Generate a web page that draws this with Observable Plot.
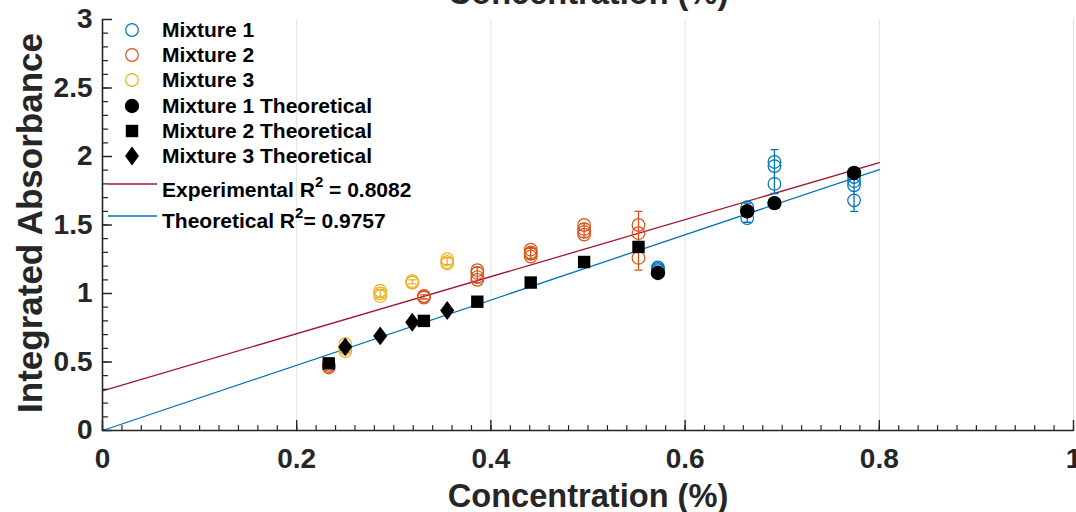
<!DOCTYPE html>
<html><head><meta charset="utf-8">
<script src="https://cdn.jsdelivr.net/npm/d3@7"></script>
<script src="https://cdn.jsdelivr.net/npm/@observablehq/plot@0.6"></script>
<style>
body{margin:0;background:#fff;}
#chart{position:relative;width:1076px;height:512px;overflow:hidden;}
</style></head><body><div id="chart"></div>
<script>
// ---------- data ----------
const mix1X = [0.572, 0.664, 0.692, 0.774];
const mix1Reps = [[1.19, 1.18, 1.17], [1.63, 1.60, 1.55], [1.96, 1.93, 1.80], [1.85, 1.82, 1.79, 1.68]];
const mix1ErrLo = [1.16, 1.52, 1.73, 1.60];
const mix1ErrHi = [1.20, 1.66, 2.05, 1.90];
const mix1Theo = [1.15, 1.60, 1.66, 1.88];

const mix2X = [0.233, 0.331, 0.386, 0.441, 0.496, 0.552];
const mix2Reps = [[0.48, 0.47, 0.46], [0.98, 0.97, 0.98], [1.17, 1.15, 1.12, 1.10], [1.32, 1.30, 1.29, 1.27], [1.50, 1.47, 1.45, 1.43], [1.50, 1.44, 1.26]];
const mix2ErrLo = [0.46, 0.96, 1.08, 1.25, 1.41, 1.17];
const mix2ErrHi = [0.49, 0.99, 1.19, 1.33, 1.51, 1.60];
const mix2Theo = [0.49, 0.80, 0.94, 1.08, 1.23, 1.34];

const mix3X = [0.250, 0.286, 0.319, 0.355];
const mix3Reps = [[0.63, 0.60, 0.58], [1.02, 1.00, 0.98], [1.09, 1.08, 1.08], [1.25, 1.23, 1.22]];
const mix3ErrLo = [0.57, 0.97, 1.07, 1.21];
const mix3ErrHi = [0.64, 1.03, 1.10, 1.26];
const mix3Theo = [0.61, 0.69, 0.79, 0.876];

const fitX = [0, 0.8];
const expFitY = [0.29, 1.956];
const theoFitY = [0.0, 1.905];

const xTicks = [0, 0.2, 0.4, 0.6, 0.8, 1];
const yTicks = [0, 0.5, 1, 1.5, 2, 2.5, 3];
const xMinor = d3.range(0, 101, 2).map(d => d / 100);
const yMinor = d3.range(0, 31, 1).map(d => d / 10);
const gridX = [0.2, 0.4, 0.6, 0.8, 1];

const legendLabels = ["Mixture 1", "Mixture 2", "Mixture 3", "Mixture 1 Theoretical", "Mixture 2 Theoretical", "Mixture 3 Theoretical"];
const expR2 = "0.8082";
const theoR2 = "0.9757";
const xLabel = "Concentration (%)";
const yLabel = "Integrated Absorbance";

// ---------- styles ----------
const C1 = "#0072BD", C2 = "#D95319", C3 = "#EDB120", CR = "#A2142F";
const AX = "#262626";
const FONT = "'Liberation Sans', Arial, Helvetica, sans-serif";

// ---------- tables ----------
const reps = (xs, rs, color) => xs.flatMap((x, i) => rs[i].map(y => ({x, y, color})));
const errs = (xs, lo, hi, color) => xs.map((x, i) => ({x, lo: lo[i], hi: hi[i], color}));
const theo = (xs, ys) => xs.map((x, i) => ({x, y: ys[i]}));

const repRows = [...reps(mix1X, mix1Reps, C1), ...reps(mix2X, mix2Reps, C2), ...reps(mix3X, mix3Reps, C3)];
const errRows = [...errs(mix1X, mix1ErrLo, mix1ErrHi, C1), ...errs(mix2X, mix2ErrLo, mix2ErrHi, C2), ...errs(mix3X, mix3ErrLo, mix3ErrHi, C3)];
const expFit = fitX.map((x, i) => ({x, y: expFitY[i]}));
const theoFit = fitX.map((x, i) => ({x, y: theoFitY[i]}));

const lineShape = {draw(ctx, l) { ctx.moveTo(0, 0); ctx.lineTo(0, -l); }};
const diamond = {draw(ctx, size) {
  const r = Math.sqrt(size / Math.PI), h = r * 1.27, w = r * 0.95;
  ctx.moveTo(0, -h); ctx.lineTo(w, 0); ctx.lineTo(0, h); ctx.lineTo(-w, 0); ctx.closePath();
}};

const svg = Plot.plot({
  width: 1076, height: 512,
  marginLeft: 102, marginRight: 3, marginTop: 19, marginBottom: 82,
  x: {domain: [0, 1]},
  y: {domain: [0, 3]},
  style: {fontFamily: FONT, fontSize: "28px", fontWeight: "bold", color: AX, background: "#fff", overflow: "visible"},
  marks: [
    Plot.ruleX(gridX, {stroke: "#e2e2e2", strokeWidth: 1}),
    Plot.line(expFit, {x: "x", y: "y", stroke: CR, strokeWidth: 1.3}),
    Plot.line(theoFit, {x: "x", y: "y", stroke: C1, strokeWidth: 1.3}),
    Plot.ruleX(errRows, {x: "x", y1: "lo", y2: "hi", stroke: "color", strokeWidth: 1.3}),
    Plot.vector(errRows, {x: "x", y: "lo", length: 7, rotate: 90, anchor: "middle", shape: lineShape, stroke: "color", strokeWidth: 1.3}),
    Plot.vector(errRows, {x: "x", y: "hi", length: 7, rotate: 90, anchor: "middle", shape: lineShape, stroke: "color", strokeWidth: 1.3}),
    Plot.dot(repRows, {x: "x", y: "y", r: 6.3, stroke: "color", fill: "none", strokeWidth: 1.2}),
    Plot.dot(theo(mix1X, mix1Theo), {x: "x", y: "y", r: 7.2, fill: "#000", symbol: "circle"}),
    Plot.dot(theo(mix2X, mix2Theo), {x: "x", y: "y", r: 7, fill: "#000", symbol: "square"}),
    Plot.dot(theo(mix3X, mix3Theo), {x: "x", y: "y", r: 7.4, fill: "#000", symbol: diamond}),
    // axes lines
    Plot.ruleY([0], {stroke: AX, strokeWidth: 1.6}),
    Plot.ruleX([0], {stroke: AX, strokeWidth: 1.6}),
    // inward ticks
    Plot.vector(xMinor, {x: d => d, frameAnchor: "bottom", length: 5, anchor: "start", shape: lineShape, stroke: AX, strokeWidth: 1.2}),
    Plot.vector(xTicks, {x: d => d, frameAnchor: "bottom", length: 10, anchor: "start", shape: lineShape, stroke: AX, strokeWidth: 1.4}),
    Plot.vector(yMinor, {y: d => d, frameAnchor: "left", rotate: 90, length: 5, anchor: "start", shape: lineShape, stroke: AX, strokeWidth: 1.2}),
    Plot.vector(yTicks, {y: d => d, frameAnchor: "left", rotate: 90, length: 9, anchor: "start", shape: lineShape, stroke: AX, strokeWidth: 1.4}),
    Plot.axisX({ticks: xTicks, tickSize: 0, tickPadding: 18, tickFormat: d => String(d), label: null, fontSize: 28, fontWeight: "bold", fill: AX}),
    Plot.axisY({ticks: yTicks, tickSize: 0, tickPadding: 10, tickFormat: d => String(d), label: null, fontSize: 28, fontWeight: "bold", fill: AX})
  ]
});

document.getElementById("chart").appendChild(svg);

// ---------- titles & legend ----------
const s = d3.select(svg);
s.append("text").attr("x", 588).attr("y", 4).attr("text-anchor", "middle")
  .attr("font-size", 32.6).attr("font-weight", "bold").attr("fill", AX).attr("font-family", FONT).text(xLabel);
s.append("text").attr("x", 588).attr("y", 507).attr("text-anchor", "middle")
  .attr("font-size", 32.6).attr("font-weight", "bold").attr("fill", AX).attr("font-family", FONT).text(xLabel);
s.append("text").attr("transform", "translate(42,223) rotate(-90)").attr("text-anchor", "middle")
  .attr("font-size", 35).attr("font-weight", "bold").attr("fill", AX).attr("font-family", FONT).text(yLabel);

const lg = s.append("g").attr("font-family", FONT).attr("font-weight", "bold").attr("font-size", 21)
  .attr("fill", "#000").attr("text-anchor", "start");
const rowY = [30, 55, 80, 106, 131, 156];
const mx = 132;
const sym = [
  g => g.append("circle").attr("r", 6.3).attr("fill", "none").attr("stroke", C1).attr("stroke-width", 1.2),
  g => g.append("circle").attr("r", 6.3).attr("fill", "none").attr("stroke", C2).attr("stroke-width", 1.2),
  g => g.append("circle").attr("r", 6.3).attr("fill", "none").attr("stroke", C3).attr("stroke-width", 1.2),
  g => g.append("circle").attr("r", 7.2).attr("fill", "#000"),
  g => g.append("rect").attr("x", -6.2).attr("y", -6.2).attr("width", 12.4).attr("height", 12.4).attr("fill", "#000"),
  g => g.append("path").attr("d", "M0,-9.4L7,0L0,9.4L-7,0Z").attr("fill", "#000")
];
legendLabels.forEach((lab, i) => {
  const g = lg.append("g").attr("transform", `translate(${mx},${rowY[i]})`);
  sym[i](g);
  lg.append("text").attr("x", 162).attr("y", rowY[i] + 7).text(lab);
});
lg.append("line").attr("x1", 108).attr("x2", 157).attr("y1", 184).attr("y2", 184).attr("stroke", CR).attr("stroke-width", 1.3);
lg.append("line").attr("x1", 108).attr("x2", 157).attr("y1", 216).attr("y2", 216).attr("stroke", C1).attr("stroke-width", 1.3);
const t1 = lg.append("text").attr("x", 162).attr("y", 197);
t1.append("tspan").text("Experimental R");
t1.append("tspan").attr("dy", -10).attr("font-size", 15).text("2");
t1.append("tspan").attr("dy", 10).text(" = " + expR2);
const t2 = lg.append("text").attr("x", 162).attr("y", 228);
t2.append("tspan").text("Theoretical R");
t2.append("tspan").attr("dy", -10).attr("font-size", 15).text("2");
t2.append("tspan").attr("dy", 10).text("= " + theoR2);
</script>
</body></html>
